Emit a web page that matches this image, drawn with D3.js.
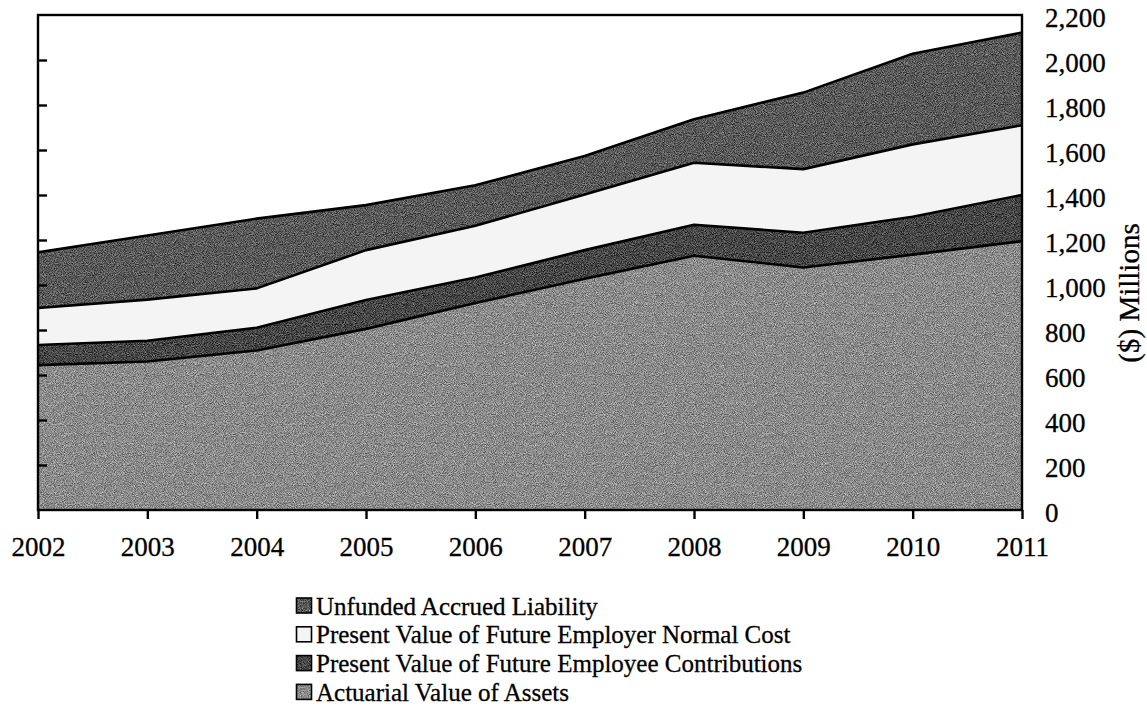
<!DOCTYPE html>
<html>
<head>
<meta charset="utf-8">
<script src="https://cdn.jsdelivr.net/npm/d3@7"></script>
<style>
  html, body { margin: 0; padding: 0; background: #fff; }
  svg { display: block; }
  text { font-family: "Liberation Serif", "Times New Roman", serif; fill: #000; }
</style>
</head>
<body>
<svg id="chart" width="1147" height="723"></svg>
<script>
// Valuation years
const years = [2002, 2003, 2004, 2005, 2006, 2007, 2008, 2009, 2010, 2011];

// Components of the present value of benefits ($ millions), bottom to top
const actuarialAssets      = [644, 660, 709, 805, 920, 1028, 1130, 1078, 1135, 1195];
const employeeContribs     = [89, 92, 101, 128, 113, 127, 138, 154, 168, 205];
const employerNormalCost   = [165, 183, 175, 222, 230, 247, 275, 283, 322, 310];
const unfundedLiability    = [247, 285, 310, 200, 180, 171, 194, 340, 403, 412];

// Right-hand axis ticks
const yTicks = [0, 200, 400, 600, 800, 1000, 1200, 1400, 1600, 1800, 2000, 2200];

const seriesKeys = ["assets", "employee", "normal", "ual"];
const seriesNames = {
  ual: "Unfunded Accrued Liability",
  normal: "Present Value of Future Employer Normal Cost",
  employee: "Present Value of Future Employee Contributions",
  assets: "Actuarial Value of Assets"
};
const seriesFill = {
  assets: "#8a8a8a",
  employee: "#464646",
  normal: "#f4f4f4",
  ual: "#595959"
};
const grainy = { assets: true, employee: true, normal: false, ual: true };

const rows = years.map((yr, i) => ({
  year: yr,
  assets: actuarialAssets[i],
  employee: employeeContribs[i],
  normal: employerNormalCost[i],
  ual: unfundedLiability[i]
}));

const svg = d3.select("#chart");
const plot = { left: 38, right: 1022, top: 15, bottom: 510 };

// Stippled printing texture for the shaded fills
const defs = svg.append("defs");
const grain = defs.append("filter")
  .attr("id", "grain")
  .attr("x", 0).attr("y", 0).attr("width", 1).attr("height", 1)
  .attr("color-interpolation-filters", "sRGB");
grain.append("feTurbulence")
  .attr("type", "fractalNoise")
  .attr("baseFrequency", 1.1)
  .attr("numOctaves", 1)
  .attr("seed", 7)
  .attr("result", "noise");
grain.append("feColorMatrix")
  .attr("in", "noise")
  .attr("type", "matrix")
  .attr("values", "1 0 0 0 0  1 0 0 0 0  1 0 0 0 0  0 0 0 0 1")
  .attr("result", "gray");
grain.append("feComposite")
  .attr("in", "SourceGraphic")
  .attr("in2", "gray")
  .attr("operator", "arithmetic")
  .attr("k1", 0).attr("k2", 1).attr("k3", 0.9).attr("k4", -0.45)
  .attr("result", "mixed");
grain.append("feComposite")
  .attr("in", "mixed")
  .attr("in2", "SourceAlpha")
  .attr("operator", "in");

const x = d3.scaleLinear()
  .domain([years[0], years[years.length - 1]])
  .range([plot.left, plot.right]);
const y = d3.scaleLinear()
  .domain([0, 2200])
  .range([plot.bottom, plot.top]);

const stacked = d3.stack().keys(seriesKeys)(rows);

const area = d3.area()
  .x(d => x(d.data.year))
  .y0(d => y(d[0]))
  .y1(d => y(d[1]));
const topLine = d3.line()
  .x(d => x(d.data.year))
  .y(d => y(d[1]));

// Stacked areas
svg.append("g")
  .selectAll("path.area")
  .data(stacked)
  .join("path")
  .attr("class", "area")
  .attr("d", area)
  .attr("fill", d => seriesFill[d.key])
  .attr("filter", d => grainy[d.key] ? "url(#grain)" : null);

// Boundary lines on top of each layer
svg.append("g")
  .selectAll("path.edge")
  .data(stacked)
  .join("path")
  .attr("class", "edge")
  .attr("d", topLine)
  .attr("fill", "none")
  .attr("stroke", "#000")
  .attr("stroke-width", 2.6)
  .attr("stroke-linejoin", "round");

// Frame around the plot
svg.append("rect")
  .attr("x", plot.left)
  .attr("y", plot.top)
  .attr("width", plot.right - plot.left)
  .attr("height", plot.bottom - plot.top)
  .attr("fill", "none")
  .attr("stroke", "#000")
  .attr("stroke-width", 2.4);

// Bottom axis: year labels and outward ticks
const xAxis = d3.axisBottom(x)
  .tickValues(years)
  .tickFormat(d3.format("d"))
  .tickSize(9)
  .tickPadding(18);
const gx = svg.append("g")
  .attr("transform", `translate(0,${plot.bottom})`)
  .call(xAxis);
gx.select(".domain").remove();
gx.selectAll(".tick line").attr("stroke", "#000").attr("stroke-width", 2.4);
gx.selectAll(".tick text")
  .attr("font-size", 27)
  .attr("font-family", "Liberation Serif, serif")
  .attr("fill", "#000")
  .attr("stroke", "#000")
  .attr("stroke-width", 0.3);

// Left side: short inward ticks
const gl = svg.append("g")
  .attr("transform", `translate(${plot.left},0)`)
  .call(d3.axisRight(y).tickValues(yTicks.slice(1, -1)).tickSize(9).tickFormat(""));
gl.select(".domain").remove();
gl.selectAll(".tick line").attr("stroke", "#000").attr("stroke-width", 2.4);

// Right side: value labels
const gr = svg.append("g")
  .attr("transform", `translate(${plot.right},0)`)
  .call(d3.axisRight(y).tickValues(yTicks).tickSize(0).tickPadding(23).tickFormat(d3.format(",")));
gr.select(".domain").remove();
gr.selectAll(".tick text")
  .attr("font-size", 27)
  .attr("font-family", "Liberation Serif, serif")
  .attr("fill", "#000")
  .attr("stroke", "#000")
  .attr("stroke-width", 0.3)
  .attr("dy", "0.42em");

// Axis title
svg.append("text")
  .attr("transform", `translate(1139,293) rotate(-90)`)
  .attr("text-anchor", "middle")
  .attr("font-size", 29)
  .attr("stroke", "#000")
  .attr("stroke-width", 0.3)
  .text("($) Millions");

// Legend, top layer first
const legendKeys = ["ual", "normal", "employee", "assets"];
const legend = svg.append("g").attr("transform", "translate(296,606)");
const item = legend.selectAll("g")
  .data(legendKeys)
  .join("g")
  .attr("transform", (d, i) => `translate(0,${i * 28.8})`);
item.append("rect")
  .attr("x", 0.5).attr("y", -8)
  .attr("width", 15).attr("height", 15)
  .attr("fill", d => seriesFill[d])
  .attr("filter", d => grainy[d] ? "url(#grain)" : null);
item.append("rect")
  .attr("x", 0.5).attr("y", -8)
  .attr("width", 15).attr("height", 15)
  .attr("fill", "none")
  .attr("stroke", "#000")
  .attr("stroke-width", 1.6);
item.append("text")
  .attr("x", 20)
  .attr("y", 8.5)
  .attr("font-size", 25)
  .attr("stroke", "#000")
  .attr("stroke-width", 0.3)
  .text(d => seriesNames[d]);
</script>
</body>
</html>
